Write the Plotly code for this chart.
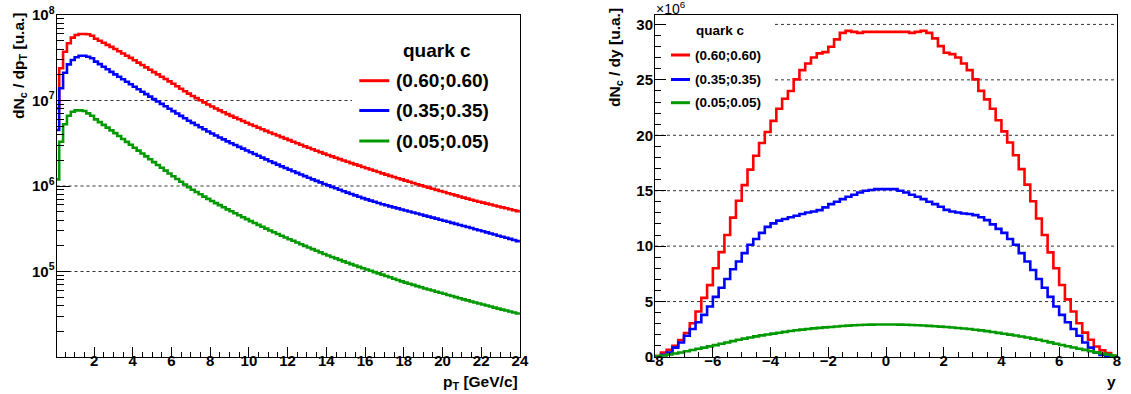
import numpy as np
import plotly.graph_objects as go

W, H = 1131, 394
FONT = "Liberation Sans, Arial, Helvetica, sans-serif"

# ---------------- data ----------------
series_names = ["(0.60;0.60)", "(0.35;0.35)", "(0.05;0.05)"]
series_colors = ["#ff0000", "#0000ff", "#009900"]

# pT histogram: 120 bins of 0.2 GeV/c from 0 to 24 (values given as log10)
pt_edges = np.round(np.arange(0.0, 24.0001, 0.2), 2)

red_pt_log10 = [
    6.909, 7.377, 7.571, 7.669, 7.735, 7.766, 7.778, 7.778, 7.774, 7.758,
    7.723, 7.699, 7.675, 7.651, 7.627, 7.602, 7.576, 7.550, 7.524, 7.498,
    7.471, 7.443, 7.415, 7.387, 7.359, 7.332, 7.305, 7.278, 7.251, 7.224,
    7.196, 7.167, 7.138, 7.109, 7.080, 7.053, 7.028, 7.003, 6.978, 6.953,
    6.929, 6.907, 6.885, 6.863, 6.841, 6.820, 6.800, 6.780, 6.760, 6.740,
    6.720, 6.702, 6.683, 6.664, 6.645, 6.626, 6.608, 6.590, 6.572, 6.554,
    6.536, 6.518, 6.500, 6.482, 6.464, 6.447, 6.430, 6.413, 6.396, 6.379,
    6.362, 6.346, 6.330, 6.314, 6.298, 6.283, 6.268, 6.253, 6.238, 6.223,
    6.208, 6.193, 6.178, 6.163, 6.148, 6.133, 6.119, 6.105, 6.091, 6.077,
    6.063, 6.049, 6.035, 6.021, 6.007, 5.994, 5.981, 5.968, 5.955, 5.942,
    5.929, 5.916, 5.903, 5.890, 5.877, 5.864, 5.852, 5.840, 5.828, 5.816,
    5.805, 5.794, 5.783, 5.772, 5.761, 5.750, 5.739, 5.728, 5.717, 5.706,
]
blue_pt_log10 = [
    6.655, 7.143, 7.325, 7.423, 7.474, 7.505, 7.524, 7.524, 7.512, 7.494,
    7.455, 7.425, 7.395, 7.365, 7.335, 7.306, 7.277, 7.248, 7.219, 7.190,
    7.161, 7.132, 7.103, 7.074, 7.045, 7.016, 6.988, 6.960, 6.932, 6.904,
    6.876, 6.848, 6.820, 6.792, 6.764, 6.738, 6.713, 6.688, 6.663, 6.638,
    6.614, 6.591, 6.568, 6.545, 6.522, 6.500, 6.479, 6.458, 6.437, 6.416,
    6.395, 6.374, 6.353, 6.332, 6.311, 6.290, 6.270, 6.250, 6.230, 6.210,
    6.191, 6.172, 6.153, 6.134, 6.115, 6.096, 6.078, 6.060, 6.042, 6.024,
    6.007, 5.990, 5.973, 5.956, 5.939, 5.922, 5.906, 5.890, 5.874, 5.858,
    5.843, 5.829, 5.815, 5.801, 5.787, 5.774, 5.762, 5.750, 5.738, 5.726,
    5.714, 5.702, 5.690, 5.678, 5.666, 5.654, 5.642, 5.630, 5.618, 5.606,
    5.594, 5.581, 5.569, 5.557, 5.544, 5.532, 5.520, 5.508, 5.495, 5.483,
    5.471, 5.458, 5.445, 5.432, 5.419, 5.407, 5.394, 5.381, 5.368, 5.355,
]
green_pt_log10 = [
    6.078, 6.518, 6.722, 6.822, 6.869, 6.885, 6.885, 6.877, 6.850, 6.822,
    6.779, 6.747, 6.715, 6.683, 6.651, 6.618, 6.584, 6.550, 6.516, 6.482,
    6.448, 6.414, 6.380, 6.346, 6.312, 6.279, 6.246, 6.213, 6.180, 6.147,
    6.114, 6.082, 6.050, 6.018, 5.986, 5.957, 5.930, 5.903, 5.876, 5.849,
    5.824, 5.800, 5.776, 5.751, 5.727, 5.704, 5.681, 5.658, 5.635, 5.612,
    5.589, 5.567, 5.545, 5.523, 5.501, 5.480, 5.459, 5.439, 5.419, 5.398,
    5.378, 5.359, 5.339, 5.319, 5.300, 5.281, 5.262, 5.243, 5.224, 5.205,
    5.187, 5.170, 5.153, 5.136, 5.119, 5.102, 5.086, 5.070, 5.054, 5.038,
    5.023, 5.008, 4.993, 4.978, 4.963, 4.947, 4.932, 4.916, 4.900, 4.885,
    4.870, 4.856, 4.843, 4.829, 4.815, 4.802, 4.789, 4.777, 4.764, 4.751,
    4.739, 4.726, 4.713, 4.700, 4.687, 4.674, 4.662, 4.650, 4.638, 4.626,
    4.614, 4.602, 4.590, 4.578, 4.566, 4.554, 4.543, 4.532, 4.520, 4.509,
]

# rapidity histogram: 80 bins of 0.2 from -8 to 8 (values in units of 1e6)
y_edges = np.round(np.arange(-8.0, 8.0001, 0.2), 2)

red_y = [
    0.09, 0.40, 0.64, 1.00, 1.53, 2.17, 3.05, 4.10, 5.33, 6.48,
    8.00, 9.46, 11.0, 12.57, 14.1, 15.5, 16.9, 18.15, 19.3, 20.3,
    21.3, 22.4, 23.3, 24.0, 25.04, 25.88, 26.48, 27.02, 27.39, 27.5,
    27.98, 28.65, 29.24, 29.42, 29.33, 29.24, 29.33, 29.33, 29.33, 29.33,
    29.33, 29.33, 29.33, 29.33, 29.24, 29.33, 29.42, 29.24, 28.74, 28.04,
    27.44, 27.32, 27.02, 26.48, 25.88, 25.04, 24.01, 23.24, 22.4, 21.35,
    20.35, 19.35, 18.2, 16.95, 15.55, 14.05, 12.5, 11.0, 9.44, 8.00,
    6.49, 5.20, 4.10, 3.05, 2.20, 1.55, 0.95, 0.60, 0.35, 0.09,
]
blue_y = [
    0.05, 0.19, 0.40, 0.85, 1.31, 1.92, 2.53, 3.13, 3.80, 4.56,
    5.42, 6.24, 7.03, 7.92, 8.61, 9.37, 10.13, 10.65, 11.2, 11.74,
    12.05, 12.3, 12.45, 12.6, 12.74, 12.9, 13.04, 13.13, 13.25, 13.5,
    13.79, 14.0, 14.24, 14.45, 14.63, 14.84, 14.99, 15.07, 15.14, 15.14,
    15.14, 15.14, 14.99, 14.84, 14.63, 14.45, 14.24, 14.0, 13.79, 13.55,
    13.27, 13.13, 13.04, 12.95, 12.9, 12.8, 12.6, 12.35, 11.96, 11.56,
    11.2, 10.65, 10.13, 9.37, 8.61, 7.85, 7.03, 6.24, 5.42, 4.56,
    3.80, 3.13, 2.53, 1.92, 1.31, 0.85, 0.40, 0.19, 0.05, 0.02,
]
green_y = [
    0.08, 0.14, 0.22, 0.31, 0.41, 0.52, 0.63, 0.74, 0.85, 0.96,
    1.07, 1.19, 1.31, 1.43, 1.55, 1.66, 1.76, 1.86, 1.95, 2.03,
    2.11, 2.19, 2.27, 2.34, 2.41, 2.47, 2.53, 2.58, 2.63, 2.67,
    2.71, 2.75, 2.79, 2.83, 2.86, 2.89, 2.91, 2.92, 2.93, 2.93,
    2.93, 2.93, 2.92, 2.91, 2.89, 2.87, 2.84, 2.81, 2.78, 2.74,
    2.70, 2.66, 2.62, 2.57, 2.52, 2.46, 2.40, 2.33, 2.26, 2.18,
    2.10, 2.02, 1.94, 1.85, 1.76, 1.66, 1.55, 1.44, 1.32, 1.20,
    1.08, 0.97, 0.86, 0.75, 0.64, 0.53, 0.42, 0.31, 0.22, 0.12,
]

left_ytick_vals = [1e4, 1e5, 1e6, 1e7, 1e8]
left_ytick_text = ["", "10<sup>5</sup>", "10<sup>6</sup>", "10<sup>7</sup>", "10<sup>8</sup>"]
left_yminor_vals = [m * 10 ** e for e in range(4, 8) for m in range(2, 10)]
left_ygrid_vals = [1e5, 1e6, 1e7]
right_ygrid_vals = [5, 10, 15, 20, 25, 30]

pt_series = [np.power(10.0, red_pt_log10), np.power(10.0, blue_pt_log10),
             np.power(10.0, green_pt_log10)]
y_series = [red_y, blue_y, green_y]

# ---------------- layout geometry (pixels) ----------------
L_X0, L_X1 = 56.5, 520.0
R_X0, R_X1 = 655.0, 1117.0
P_TOP, P_BOT = 15.0, 357.0
L_YRANGE = [4, 8]          # log10
R_YRANGE = [0, 30.85]


def step_xy(edges, vals):
    vals = list(vals)
    return list(edges), vals + [vals[-1]]


def px(x):
    return x / W


def py(y):
    return 1 - y / H


def left_y_paper(v):
    f = (np.log10(v) - L_YRANGE[0]) / (L_YRANGE[1] - L_YRANGE[0])
    return py(P_BOT) + f * (py(P_TOP) - py(P_BOT))


fig = go.Figure()

for vals, col, name in zip(pt_series, series_colors, series_names):
    xs, ys = step_xy(pt_edges, vals)
    fig.add_trace(go.Scatter(x=xs, y=ys, mode="lines", line=dict(color=col, width=2.6, shape="hv"),
                             name=name, showlegend=False, xaxis="x", yaxis="y"))

for vals, col, name in zip(y_series, series_colors, series_names):
    xs, ys = step_xy(y_edges, vals)
    fig.add_trace(go.Scatter(x=xs, y=ys, mode="lines", line=dict(color=col, width=2.6, shape="hv"),
                             name=name, showlegend=False, xaxis="x2", yaxis="y2"))

tickfont = dict(family=FONT, size=15, color="black", weight="bold")
common = dict(showline=True, linecolor="black", linewidth=1, mirror=True, ticks="inside",
              tickcolor="black", tickwidth=1, zeroline=False, tickfont=tickfont,
              automargin=False, showgrid=False)

fig.update_layout(
    width=W, height=H, margin=dict(l=0, r=0, t=0, b=0, autoexpand=False),
    paper_bgcolor="white", plot_bgcolor="white", showlegend=False,
    font=dict(family=FONT, color="black"),
    xaxis=dict(domain=[px(L_X0), px(L_X1)], anchor="y", range=[0.06, 24.005],
               tickmode="linear", tick0=0, dtick=2, ticklen=10, ticklabelstandoff=-10,
               minor=dict(tickmode="linear", tick0=0, dtick=0.5, ticklen=5, ticks="inside",
                          tickcolor="black", showgrid=False),
               **common),
    yaxis=dict(domain=[py(P_BOT), py(P_TOP)], anchor="x", type="log", range=L_YRANGE,
               tickmode="array", tickvals=left_ytick_vals, ticktext=left_ytick_text,
               ticklen=13, ticklabelstandoff=-2,
               minor=dict(tickmode="array", tickvals=left_yminor_vals, ticklen=7, ticks="inside",
                          tickcolor="black", showgrid=False),
               **common),
    xaxis2=dict(domain=[px(R_X0), px(R_X1)], anchor="y2", range=[-8.005, 8.005],
                tickmode="linear", tick0=0, dtick=2, ticklen=10, ticklabelstandoff=-10,
                minor=dict(tickmode="linear", tick0=0, dtick=0.5, ticklen=5, ticks="inside",
                           tickcolor="black", showgrid=False),
                **common),
    yaxis2=dict(domain=[py(P_BOT), py(P_TOP)], anchor="x2", range=R_YRANGE,
                tickmode="linear", tick0=0, dtick=5, ticklen=11, ticklabelstandoff=-2,
                minor=dict(tickmode="linear", tick0=0, dtick=1, ticklen=6, ticks="inside",
                           tickcolor="black", showgrid=False),
                **common),
)

shapes = []
annotations = []
GRID = dict(color="#333333", width=1, dash="dot")

# dotted horizontal grid lines (interrupted where the legend boxes sit)
for v in left_ygrid_vals:
    x_end = 352.0 if v == 1e7 else L_X1
    yy = left_y_paper(v)
    shapes.append(dict(type="line", xref="paper", yref="paper", x0=px(L_X0), x1=px(x_end),
                       y0=yy, y1=yy, line=GRID, layer="below"))
for v in right_ygrid_vals:
    x_start = 775.0 if v >= 25 else R_X0
    shapes.append(dict(type="line", xref="paper", yref="y2", x0=px(x_start), x1=px(R_X1),
                       y0=v, y1=v, line=GRID, layer="below"))

# left legend
annotations.append(dict(text="quark c", x=px(436.7), y=py(50), xref="paper", yref="paper",
                        xanchor="center", yanchor="middle", showarrow=False,
                        font=dict(family=FONT, size=19, weight="bold", color="black")))
for yy, col, name in zip([80.7, 110.5, 141.0], series_colors, series_names):
    shapes.append(dict(type="line", xref="paper", yref="paper", x0=px(359.3), x1=px(389.3),
                       y0=py(yy), y1=py(yy), line=dict(color=col, width=3), layer="above"))
    annotations.append(dict(text=name, x=px(394), y=py(yy), xref="paper", yref="paper",
                            xanchor="left", yanchor="middle", showarrow=False,
                            font=dict(family=FONT, size=19, weight="bold", color="black")))

# right legend
annotations.append(dict(text="quark c", x=px(720.5), y=py(31), xref="paper", yref="paper",
                        xanchor="center", yanchor="middle", showarrow=False,
                        font=dict(family=FONT, size=13.5, weight="bold", color="black")))
for yy, col, name in zip([55.0, 79.5, 102.7], series_colors, series_names):
    shapes.append(dict(type="line", xref="paper", yref="paper", x0=px(671), x1=px(690),
                       y0=py(yy), y1=py(yy), line=dict(color=col, width=3), layer="above"))
    annotations.append(dict(text=name, x=px(693), y=py(yy), xref="paper", yref="paper",
                            xanchor="left", yanchor="middle", showarrow=False,
                            font=dict(family=FONT, size=13.5, weight="bold", color="black")))

# axis titles
annotations.append(dict(text="dN<sub>c</sub> / dp<sub>T</sub> [u.a.]", x=px(20), y=py(66),
                        xref="paper", yref="paper", xanchor="center", yanchor="middle",
                        textangle=-90, showarrow=False,
                        font=dict(family=FONT, size=15.5, weight="bold", color="black")))
annotations.append(dict(text="dN<sub>c</sub> / dy [u.a.]", x=px(615), y=py(58),
                        xref="paper", yref="paper", xanchor="center", yanchor="middle",
                        textangle=-90, showarrow=False,
                        font=dict(family=FONT, size=15.5, weight="bold", color="black")))
annotations.append(dict(text="p<sub>T</sub> [GeV/c]", x=px(520), y=py(382),
                        xref="paper", yref="paper", xanchor="right", yanchor="middle",
                        showarrow=False,
                        font=dict(family=FONT, size=15.5, weight="bold", color="black")))
annotations.append(dict(text="y", x=px(1118), y=py(381),
                        xref="paper", yref="paper", xanchor="right", yanchor="middle",
                        showarrow=False,
                        font=dict(family=FONT, size=15.5, weight="bold", color="black")))
annotations.append(dict(text="×10<sup>6</sup>", x=px(654), y=py(8),
                        xref="paper", yref="paper", xanchor="left", yanchor="middle",
                        showarrow=False,
                        font=dict(family=FONT, size=14, color="black")))

fig.update_layout(shapes=shapes, annotations=annotations)

# remove the default page margin so the figure fills the window exactly
fig.write_html("out.html", config={"displayModeBar": False},
               post_script="document.body.style.margin='0px';")
